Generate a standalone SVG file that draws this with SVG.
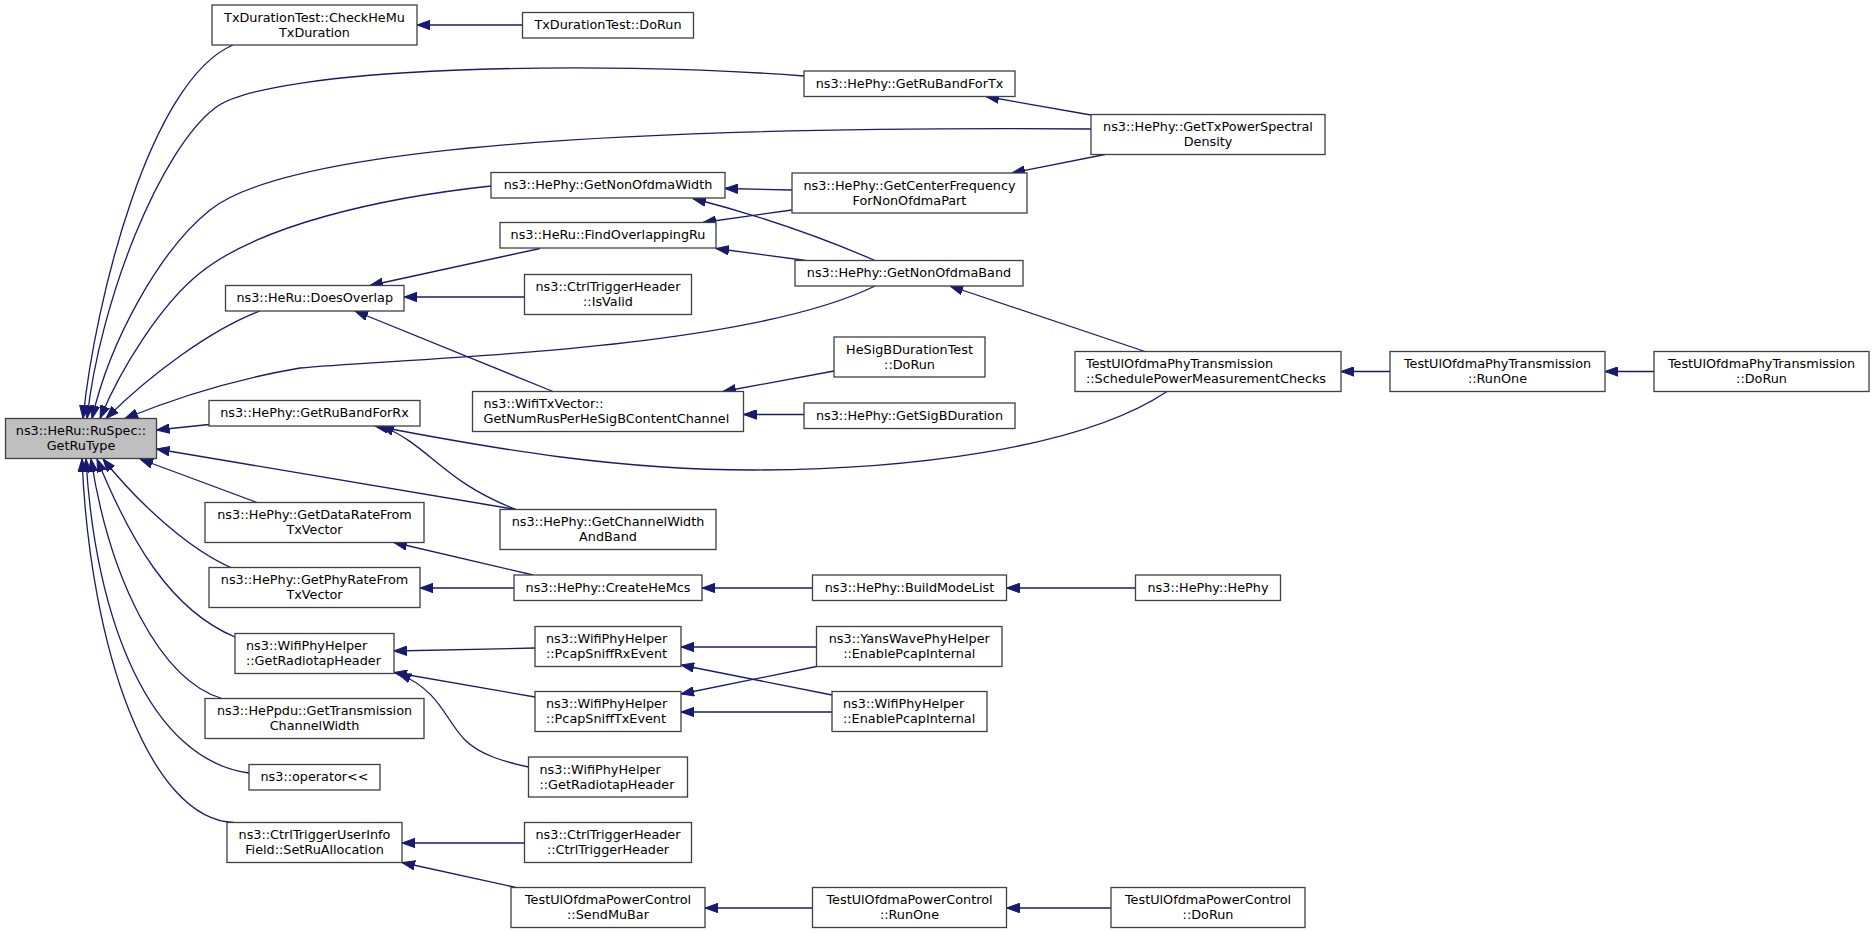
<svg xmlns="http://www.w3.org/2000/svg" width="1875" height="933" viewBox="0 0 1875 933">
<style>
.n rect{fill:#fff;stroke:#404040;stroke-width:1.3}
.n.root rect{fill:#bfbfbf}
text{font-family:"DejaVu Sans","Liberation Sans",sans-serif;font-size:12.8px;fill:#000}
.c text{text-anchor:middle}
.l text{text-anchor:start}
#edges path{fill:none;stroke:#191970;stroke-width:1.3;marker-start:url(#a)}
</style>
<defs>
<marker id="a" markerUnits="userSpaceOnUse" markerWidth="14" markerHeight="10" refX="13" refY="5" orient="auto-start-reverse" viewBox="0 0 14 10">
<path d="M0,0.3 L13,5 L0,9.7 z" fill="#191970" stroke="#191970" stroke-width="1"/>
</marker>
</defs>
<rect width="1875" height="933" fill="#fff"/>
<g id="edges">
<path d="M83,418.5 C95,300 150,80 233,45"/>
<path d="M87,418.5 C100,300 160,150 215,108 C270,66 600,60 804,76"/>
<path d="M92,418.5 C110,340 160,250 210,210 C270,162 500,125 1091,129"/>
<path d="M100,418.5 C120,370 160,305 200,273 C260,225 380,198 491,186"/>
<path d="M106,418.5 C150,375 210,330 260,311"/>
<path d="M125,418.5 C170,400 230,380 300,368 C400,358 740,352 875,286"/>
<path d="M156.5,430 L209,424.5"/>
<path d="M156.5,449 L516,509.5"/>
<path d="M140,459 L257,502.5"/>
<path d="M103,459 C140,505 190,550 232,568"/>
<path d="M97,459 C130,540 170,610 235,637"/>
<path d="M91,459 C110,580 160,680 222,698.5"/>
<path d="M86,459 C95,620 150,760 249,773"/>
<path d="M82,459 C90,650 150,820 234,822.5"/>
<path d="M417,25 L522.5,25"/>
<path d="M986,96.5 L1091,115"/>
<path d="M1012,173 L1105,154.5"/>
<path d="M725,188.5 L792,190"/>
<path d="M693,198.5 C730,208 800,228 875,260.5"/>
<path d="M703,222.5 L792,210"/>
<path d="M716,248.5 L806,260.5"/>
<path d="M370,285.5 L540,248.5"/>
<path d="M404,297 L524.5,297"/>
<path d="M355,311 L553,391.5"/>
<path d="M723,391.5 L834,371"/>
<path d="M743.5,414.5 L804,414.5"/>
<path d="M950,286 L1145,351.5"/>
<path d="M375,426 C500,450 620,470 753,470 C900,470 1080,450 1167,391.5"/>
<path d="M381,426 C430,445 440,480 516,509.5"/>
<path d="M394,542.5 L533,575"/>
<path d="M420,588 L514,588"/>
<path d="M702,588 L812.5,588"/>
<path d="M1006.5,588 L1135.5,588"/>
<path d="M394,651 L535,648"/>
<path d="M394,672.5 L535,697"/>
<path d="M398,673.5 C440,690 445,720 465,740 C480,755 505,762 528.5,767"/>
<path d="M681,647 L816.5,647"/>
<path d="M681,694 L816.5,666.5"/>
<path d="M681,665 L832,695"/>
<path d="M681,712 L832,712"/>
<path d="M402,843 L524.5,843"/>
<path d="M402,862.5 L516,887.5"/>
<path d="M705,908 L812.5,908"/>
<path d="M1006.5,908 L1111,908"/>
<path d="M1341,371.5 L1390,371.5"/>
<path d="M1605,371.5 L1654,371.5"/>
</g>
<g id="n_root" class="n root c"><rect x="5.5" y="418.5" width="151" height="40"/><text x="81" y="435.3">ns3::HeRu::RuSpec::</text><text x="81" y="450">GetRuType</text></g>
<g id="n_checkhemu" class="n c"><rect x="212" y="5" width="205" height="40"/><text x="314.5" y="21.8">TxDurationTest::CheckHeMu</text><text x="314.5" y="36.5">TxDuration</text></g>
<g id="n_txdurrun" class="n c"><rect x="522.5" y="12.5" width="171" height="25.5"/><text x="608" y="29.3">TxDurationTest::DoRun</text></g>
<g id="n_rubandtx" class="n c"><rect x="804" y="71" width="211" height="25.5"/><text x="909.5" y="87.8">ns3::HePhy::GetRuBandForTx</text></g>
<g id="n_txpsd" class="n c"><rect x="1091" y="114.5" width="234" height="40"/><text x="1208" y="131.3">ns3::HePhy::GetTxPowerSpectral</text><text x="1208" y="146">Density</text></g>
<g id="n_nonofdmawidth" class="n c"><rect x="491" y="172.5" width="234" height="25.5"/><text x="608" y="189.3">ns3::HePhy::GetNonOfdmaWidth</text></g>
<g id="n_centerfreq" class="n c"><rect x="792" y="173" width="235" height="40"/><text x="909.5" y="189.8">ns3::HePhy::GetCenterFrequency</text><text x="909.5" y="204.5">ForNonOfdmaPart</text></g>
<g id="n_findoverlap" class="n c"><rect x="500" y="222.5" width="216" height="25.5"/><text x="608" y="239.3">ns3::HeRu::FindOverlappingRu</text></g>
<g id="n_nonofdmaband" class="n c"><rect x="795" y="260.5" width="228" height="25.5"/><text x="909" y="277.3">ns3::HePhy::GetNonOfdmaBand</text></g>
<g id="n_doesoverlap" class="n c"><rect x="225.5" y="285.5" width="178.5" height="25.5"/><text x="314.75" y="302.3">ns3::HeRu::DoesOverlap</text></g>
<g id="n_isvalid" class="n c"><rect x="524.5" y="274.5" width="167" height="40"/><text x="608" y="291.3">ns3::CtrlTriggerHeader</text><text x="608" y="306">::IsValid</text></g>
<g id="n_hesigbrun" class="n c"><rect x="834" y="337" width="151" height="40"/><text x="909.5" y="353.8">HeSigBDurationTest</text><text x="909.5" y="368.5">::DoRun</text></g>
<g id="n_numrus" class="n l"><rect x="472.5" y="391.5" width="271" height="40"/><text x="483.5" y="408.3">ns3::WifiTxVector::</text><text x="483.5" y="423">GetNumRusPerHeSigBContentChannel</text></g>
<g id="n_sigbdur" class="n c"><rect x="804" y="403" width="211" height="25.5"/><text x="909.5" y="419.8">ns3::HePhy::GetSigBDuration</text></g>
<g id="n_schedule" class="n l"><rect x="1075" y="351.5" width="266" height="40"/><text x="1086" y="368.3">TestUlOfdmaPhyTransmission</text><text x="1086" y="383">::SchedulePowerMeasurementChecks</text></g>
<g id="n_phyrunone" class="n c"><rect x="1390" y="351.5" width="215" height="40"/><text x="1497.5" y="368.3">TestUlOfdmaPhyTransmission</text><text x="1497.5" y="383">::RunOne</text></g>
<g id="n_phydorun" class="n c"><rect x="1654" y="351.5" width="215" height="40"/><text x="1761.5" y="368.3">TestUlOfdmaPhyTransmission</text><text x="1761.5" y="383">::DoRun</text></g>
<g id="n_rubandrx" class="n c"><rect x="209" y="400.5" width="211" height="25.5"/><text x="314.5" y="417.3">ns3::HePhy::GetRuBandForRx</text></g>
<g id="n_chwidthband" class="n c"><rect x="500" y="509.5" width="216" height="40"/><text x="608" y="526.3">ns3::HePhy::GetChannelWidth</text><text x="608" y="541">AndBand</text></g>
<g id="n_datarate" class="n c"><rect x="205" y="502.5" width="219" height="40"/><text x="314.5" y="519.3">ns3::HePhy::GetDataRateFrom</text><text x="314.5" y="534">TxVector</text></g>
<g id="n_createhemcs" class="n c"><rect x="514" y="575" width="188" height="25.5"/><text x="608" y="591.8">ns3::HePhy::CreateHeMcs</text></g>
<g id="n_buildmodelist" class="n c"><rect x="812.5" y="575" width="194" height="25.5"/><text x="909.5" y="591.8">ns3::HePhy::BuildModeList</text></g>
<g id="n_hephy" class="n c"><rect x="1135.5" y="575" width="145" height="25.5"/><text x="1208" y="591.8">ns3::HePhy::HePhy</text></g>
<g id="n_phyrate" class="n c"><rect x="209" y="567.5" width="211" height="40"/><text x="314.5" y="584.3">ns3::HePhy::GetPhyRateFrom</text><text x="314.5" y="599">TxVector</text></g>
<g id="n_radiotap1" class="n l"><rect x="235" y="633.5" width="159" height="40"/><text x="246" y="650.3">ns3::WifiPhyHelper</text><text x="246" y="665">::GetRadiotapHeader</text></g>
<g id="n_sniffrx" class="n l"><rect x="535" y="626.5" width="146" height="40"/><text x="546" y="643.3">ns3::WifiPhyHelper</text><text x="546" y="658">::PcapSniffRxEvent</text></g>
<g id="n_snifftx" class="n l"><rect x="535" y="691.5" width="146" height="40"/><text x="546" y="708.3">ns3::WifiPhyHelper</text><text x="546" y="723">::PcapSniffTxEvent</text></g>
<g id="n_yanspcap" class="n c"><rect x="816.5" y="626.5" width="185.5" height="40"/><text x="909.25" y="643.3">ns3::YansWavePhyHelper</text><text x="909.25" y="658">::EnablePcapInternal</text></g>
<g id="n_wifipcap" class="n l"><rect x="832" y="691.5" width="155" height="40"/><text x="843" y="708.3">ns3::WifiPhyHelper</text><text x="843" y="723">::EnablePcapInternal</text></g>
<g id="n_heppdu" class="n c"><rect x="205" y="698.5" width="219" height="40"/><text x="314.5" y="715.3">ns3::HePpdu::GetTransmission</text><text x="314.5" y="730">ChannelWidth</text></g>
<g id="n_radiotap2" class="n l"><rect x="528.5" y="757" width="159" height="40"/><text x="539.5" y="773.8">ns3::WifiPhyHelper</text><text x="539.5" y="788.5">::GetRadiotapHeader</text></g>
<g id="n_operator" class="n c"><rect x="249" y="764.5" width="131" height="25.5"/><text x="314.5" y="781.3">ns3::operator&lt;&lt;</text></g>
<g id="n_setru" class="n c"><rect x="227" y="822.5" width="175" height="40"/><text x="314.5" y="839.3">ns3::CtrlTriggerUserInfo</text><text x="314.5" y="854">Field::SetRuAllocation</text></g>
<g id="n_ctrlhdr" class="n c"><rect x="524.5" y="822.5" width="167" height="40"/><text x="608" y="839.3">ns3::CtrlTriggerHeader</text><text x="608" y="854">::CtrlTriggerHeader</text></g>
<g id="n_sendmubar" class="n c"><rect x="511" y="887.5" width="194" height="40"/><text x="608" y="904.3">TestUlOfdmaPowerControl</text><text x="608" y="919">::SendMuBar</text></g>
<g id="n_pcrunone" class="n c"><rect x="812.5" y="887.5" width="194" height="40"/><text x="909.5" y="904.3">TestUlOfdmaPowerControl</text><text x="909.5" y="919">::RunOne</text></g>
<g id="n_pcdorun" class="n c"><rect x="1111" y="887.5" width="194" height="40"/><text x="1208" y="904.3">TestUlOfdmaPowerControl</text><text x="1208" y="919">::DoRun</text></g>
</svg>
